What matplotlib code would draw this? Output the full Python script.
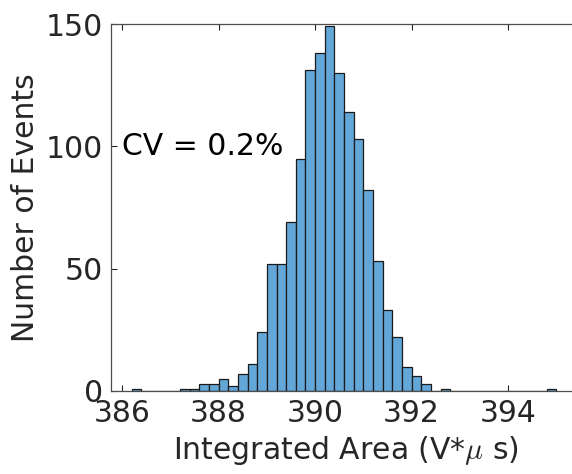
import numpy as np
import matplotlib
matplotlib.use('Agg')
import matplotlib.pyplot as plt

# histogram bins (left edges, width 0.2) and counts
bin_start = 386.2
bin_width = 0.2
counts = [1, 0, 0, 0, 0, 1, 1, 3, 3, 5, 2, 7, 11, 24, 52, 52, 69, 95, 131, 138,
          149, 130, 114, 103, 82, 53, 33, 22, 10, 6, 3, 0, 1,
          0, 0, 0, 0, 0, 0, 0, 0, 0, 0, 1]
xticks = [386, 388, 390, 392, 394]
yticks = [0, 50, 100, 150]
cv_text = 'CV = 0.2%'

left_edges = bin_start + bin_width * np.arange(len(counts))

plt.rcParams['font.family'] = ['DejaVu Sans']
plt.rcParams['mathtext.fontset'] = 'cm'
txt = '#262626'
fs = 21.5

fig = plt.figure(figsize=(5.72, 4.74), dpi=100)
ax = fig.add_axes([111/572, 83/474, 470/572, 367/474])
ax.bar(left_edges, counts, width=bin_width, align='edge',
       color='#63a7d8', edgecolor='#1a1a1a', linewidth=0.9)

ax.set_xlim(385.77, 395.51)
ax.set_ylim(0, 150)
ax.set_xticks(xticks)
ax.set_yticks(yticks)
ax.tick_params(direction='in', top=True, right=False, labelsize=fs,
               colors=txt, length=4, width=0.8, pad=6)
for s in ax.spines.values():
    s.set_color('#4d4d4d')
    s.set_linewidth(0.9)

ax.set_xlabel(r'Integrated Area (V*$\mu$ s)', fontsize=fs, color=txt, labelpad=4)
ax.set_ylabel('Number of Events', fontsize=fs, color=txt, labelpad=4)
ax.text(386.0, 100, cv_text, fontsize=fs, color='black', va='center', ha='left')

fig.savefig('out.png', dpi=100)
